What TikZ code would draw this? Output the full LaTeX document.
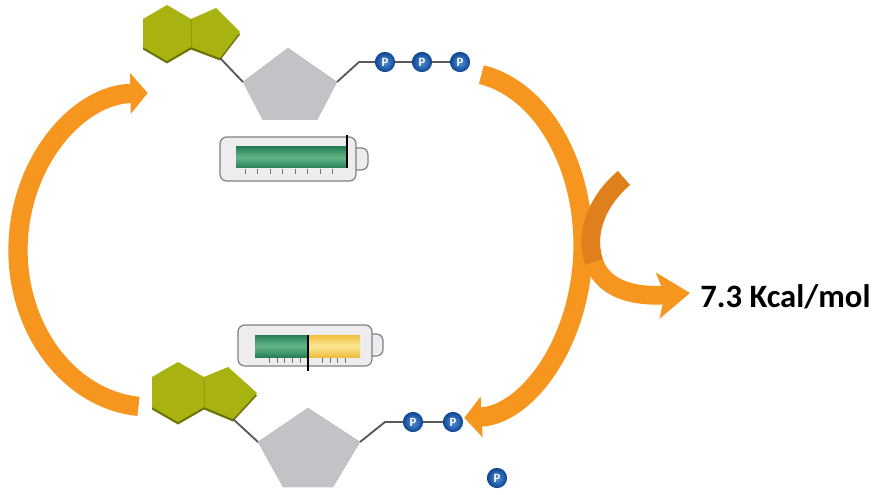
\documentclass[tikz,border=0pt]{standalone}
\usepackage{fontspec}
\setsansfont{Carlito}
\usepackage{tikz}
\usetikzlibrary{arrows.meta}

\definecolor{arcorange}{RGB}{247,150,30}
\definecolor{arcdark}{RGB}{224,128,28}
\definecolor{baseolive}{RGB}{168,178,16}
\definecolor{oliveshade}{RGB}{108,116,8}
\definecolor{sugargray}{RGB}{196,194,199}
\definecolor{sugarshade}{RGB}{138,136,142}
\definecolor{pblue}{RGB}{30,110,200}
\definecolor{pdark}{RGB}{15,72,150}
\definecolor{cellgreen}{RGB}{38,128,84}
\definecolor{cellgreenlt}{RGB}{100,182,138}
\definecolor{cellyellow}{RGB}{238,190,62}
\definecolor{cellyellowlt}{RGB}{252,230,150}
\definecolor{casegray}{RGB}{238,236,238}
\definecolor{caseedge}{RGB}{128,126,130}

\tikzset{
  cyclearrow/.style={draw=arcorange, line width=14.5pt, -{Triangle[width=30pt,length=13pt]}},
  energyarrow/.style={draw=arcorange, line width=14pt, -{Stealth[width=34pt,length=24pt,inset=5pt]}},
  bond/.style={draw=black!65, line width=1.4pt},
  phos/.style={circle, inner color=pblue!75!white, outer color=pdark, draw=pdark, line width=0.6pt,
    inner sep=0pt, minimum size=14.5pt, text=white, font=\sffamily\bfseries\fontsize{9.5}{9.5}\selectfont},
  cellcase/.style={fill=casegray, draw=caseedge, line width=0.9pt, rounded corners=5pt},
  gaugetick/.style={draw=black!55, line width=0.5pt},
}

\begin{document}
\begin{tikzpicture}[x=0.75pt,y=0.75pt,yscale=-1,xscale=1]
    \useasboundingbox (0,0) rectangle (874,495);

    % end points of the cycle arrows
    \coordinate (leftStart) at (138.5,406.4);
    \coordinate (rightStart) at (481.4,74.6);
    \coordinate (relStart) at (624,178);
    \coordinate (relBend) at (594,262);
    \coordinate (relTip) at (690,293);

    %Curve Arrow: left, up to ATP
    \draw[cyclearrow] (leftStart) arc[start angle=95, end angle=269, x radius=132, y radius=157];
    %Curve Arrow: right, down to ADP
    \draw[cyclearrow] (rightStart) arc[start angle=-80, end angle=88, x radius=123, y radius=173];
    %Curve Arrow: energy released
    \draw[energyarrow] (relBend) .. controls (604,292) and (640,297) .. (relTip);
    \draw[draw=arcdark, line width=14pt] (relStart) .. controls (598,200) and (584,232) .. (relBend);

    % Text Node
    \node[font=\sffamily\bfseries\fontsize{24.5}{28}\selectfont, anchor=base west, inner sep=0pt] (energy) at (700,307) {7.3 Kcal/mol};

    %Shape: base (top)
    \fill[oliveshade, shift={(0,2.5)}] (167,5) -- (191,19) -- (216,8) -- (240,32) -- (220,58) -- (191,47) -- (167,61) -- (143,47) -- (143,19) -- cycle;
    \fill[baseolive] (167,5) -- (191,19) -- (216,8) -- (240,32) -- (220,58) -- (191,47) -- (167,61) -- (143,47) -- (143,19) -- cycle;
    \draw[oliveshade!35!baseolive, line width=0.6pt] (191,19) -- (191,47);
    %Shape: sugar (top)
    \coordinate (ribA1) at (288,48);
    \coordinate (ribA2) at (243,82);
    \coordinate (ribA3) at (263,120);
    \coordinate (ribA4) at (317,120);
    \coordinate (ribA5) at (337,82);
    \fill[sugarshade, shift={(0,3)}] (ribA1) -- (ribA2) -- (ribA3) -- (ribA4) -- (ribA5) -- cycle;
    \fill[sugargray] (ribA1) -- (ribA2) -- (ribA3) -- (ribA4) -- (ribA5) -- cycle;
    % phosphates (top)
    \node[phos] (pA1) at (385,62) {P};
    \node[phos] (pA2) at (422,62) {P};
    \node[phos] (pA3) at (460,62) {P};
    \coordinate (baseA) at (220,58);
    \coordinate (kinkA) at (359,62);
    \draw[bond] (baseA) -- (ribA2);
    \draw[bond] (ribA5) -- (kinkA) -- (pA1) -- (pA2) -- (pA3);

    %Shape: charged cell
    \draw[cellcase] (346,148) rectangle (368,170);
    \draw[cellcase] (220,137) rectangle (356,181);
    \fill[top color=cellgreen, bottom color=cellgreen, middle color=cellgreenlt] (236,147) rectangle (347,168);
    \foreach \i in {0,...,7}
      \draw[gaugetick] (245+12.5*\i,169) -- (245+12.5*\i,174);
    \draw[black, line width=1pt] (347,135) -- (347,168);

    %Shape: half cell
    \draw[cellcase] (362,334) rectangle (383,356);
    \draw[cellcase] (238,325) rectangle (372,366);
    \fill[top color=cellgreen, bottom color=cellgreen, middle color=cellgreenlt] (255,335) rectangle (308,357);
    \fill[top color=cellyellow, bottom color=cellyellow, middle color=cellyellowlt] (308,335) rectangle (360,357);
    \foreach \x in {269,277,284,292,300,322,330,337,345}
      \draw[gaugetick] (\x,358) -- (\x,363);
    \draw[black, line width=1pt] (308,335) -- (308,371);

    %Shape: base (bottom)
    \fill[oliveshade, shift={(0,2.5)}] (178,362) -- (204,377) -- (228,367) -- (257,393) -- (233,419) -- (204,407) -- (178,422) -- (152,407) -- (152,377) -- cycle;
    \fill[baseolive] (178,362) -- (204,377) -- (228,367) -- (257,393) -- (233,419) -- (204,407) -- (178,422) -- (152,407) -- (152,377) -- cycle;
    \draw[oliveshade!35!baseolive, line width=0.6pt] (204,377) -- (204,407);
    %Shape: sugar (bottom)
    \coordinate (ribB1) at (308,408);
    \coordinate (ribB2) at (258,442);
    \coordinate (ribB3) at (283,487);
    \coordinate (ribB4) at (333,487);
    \coordinate (ribB5) at (360,442);
    \fill[sugarshade, shift={(0,3)}] (ribB1) -- (ribB2) -- (ribB3) -- (ribB4) -- (ribB5) -- cycle;
    \fill[sugargray] (ribB1) -- (ribB2) -- (ribB3) -- (ribB4) -- (ribB5) -- cycle;
    % phosphates (bottom)
    \node[phos] (pB1) at (413,422) {P};
    \node[phos] (pB2) at (453,422) {P};
    \node[phos] (pFree) at (497,478) {P};
    \coordinate (baseB) at (233,419);
    \coordinate (kinkB) at (385,422);
    \draw[bond] (baseB) -- (ribB2);
    \draw[bond] (ribB5) -- (kinkB) -- (pB1) -- (pB2);

\end{tikzpicture}
\end{document}
